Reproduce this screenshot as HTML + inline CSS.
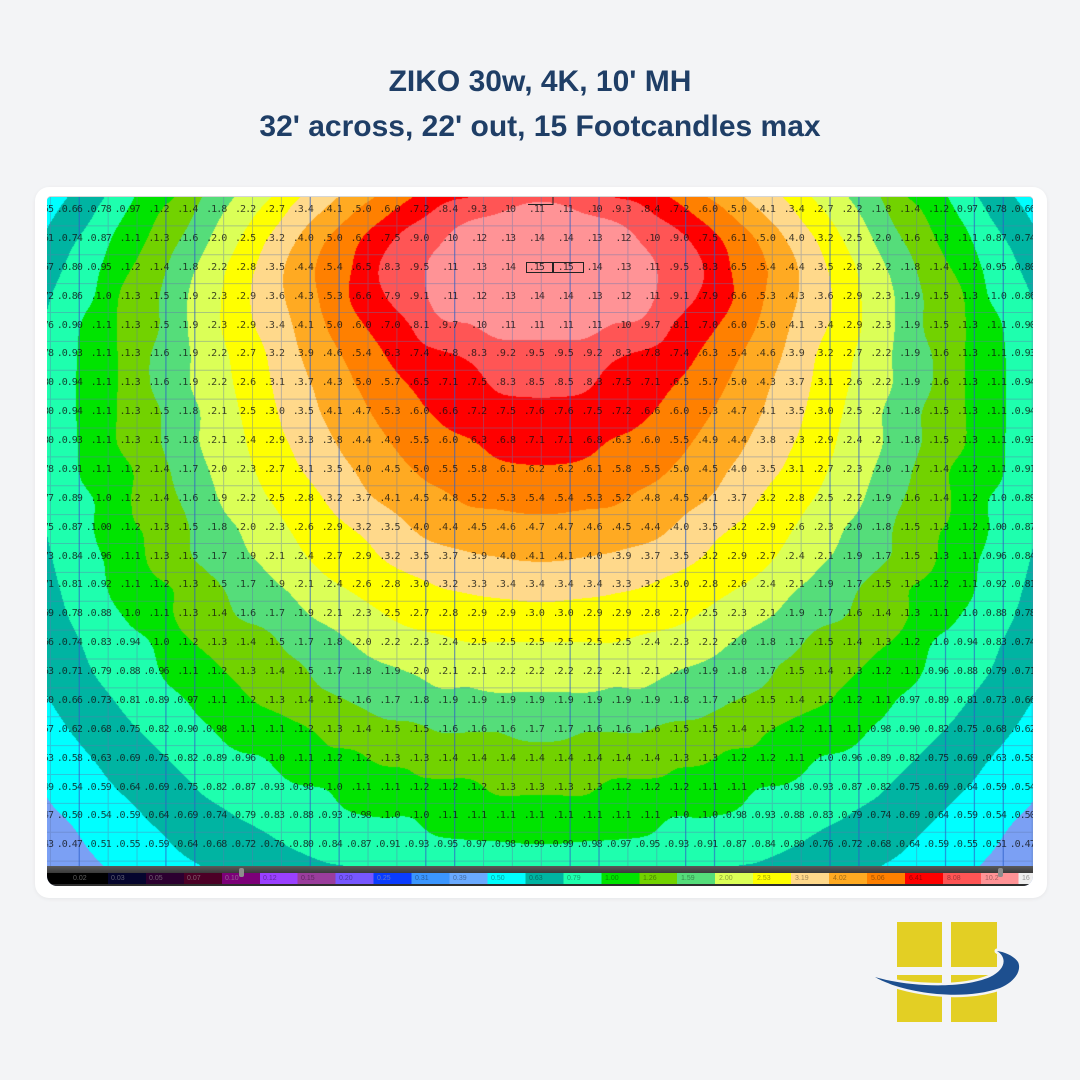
<!DOCTYPE html>
<html><head><meta charset="utf-8">
<style>
html,body{margin:0;padding:0}
body{width:1080px;height:1080px;background:#f3f4f6;position:relative;overflow:hidden;font-family:"Liberation Sans",Arial,sans-serif}
.t{position:absolute;left:0;width:1080px;text-align:center;font-weight:bold;font-size:30px;line-height:30px;color:#1f3e66;white-space:nowrap}
#card{position:absolute;left:35px;top:187px;width:1012px;height:711px;background:#fff;border-radius:14px;box-shadow:0 1px 4px rgba(0,0,0,0.06)}
#plot{position:absolute;left:47px;top:197px;width:986px;height:689px;overflow:hidden;border-radius:4px 4px 10px 10px;background:#7ba0f4;box-shadow:0 -1px 0 #d6d6d6}
#cv{position:absolute;left:0;top:0;width:986px;height:669px}
#gr{position:absolute;left:0;top:0}
#lb{position:absolute;left:0;top:0;width:986px;height:669px;overflow:hidden}
#lb div{position:absolute;left:-22.9px;height:11px;line-height:11px;display:flex;white-space:nowrap}
#lb i{font-style:normal;flex:none;width:28.875px;text-align:right;font-family:"DejaVu Sans Mono","Liberation Mono",monospace;font-size:10px;letter-spacing:-1px;color:rgba(15,15,15,0.78)}
#lb i::before{content:"."}
#cb{position:absolute;left:0;top:669px;width:986px;height:20px;background:#2e2e2e}
#cb .band{position:absolute;left:0;top:0;width:986px;height:7px;background:linear-gradient(#5a5a5a,#3a3a3a)}
#cb .cells{position:absolute;left:0;top:7px;width:986px;height:11px;background:linear-gradient(to right,#000 0 60.95px,#05052e 60.95px 98.9px,#2c0030 98.9px 136.85px,#4c0026 136.85px 174.8px,#7c0078 174.8px 212.75px,#9a40ff 212.75px 250.7px,#9a3d9c 250.7px 288.65px,#7757ff 288.65px 326.6px,#0a3cff 326.6px 364.55px,#3b96ff 364.55px 402.5px,#6aaaff 402.5px 440.45px,#00ffff 440.45px 478.4px,#00b4a2 478.4px 516.35px,#1effae 516.35px 554.3px,#00e400 554.3px 592.25px,#72d200 592.25px 630.2px,#55dd7a 630.2px 668.15px,#dbff57 668.15px 706.1px,#ffff00 706.1px 744.05px,#ffd98b 744.05px 782px,#ffaa22 782px 819.95px,#ff8000 819.95px 857.9px,#ff0000 857.9px 895.85px,#ff5555 895.85px 933.8px,#ff9396 933.8px 971.75px,#eeeeee 971.75px)}
#cb span{position:absolute;top:8px;font-size:7px;line-height:9px;font-family:"Liberation Sans",sans-serif;color:rgba(0,0,0,0.38)}
#cb span.d{color:rgba(170,170,170,0.55)}
#cb .k{position:absolute;top:2px;width:5px;height:9px;border-radius:2px;background:#8d8d8d}
</style></head>
<body>
<div class="t" style="top:67px">ZIKO 30w, 4K, 10' MH</div>
<div class="t" style="top:112px">32' across, 22' out, 15 Footcandles max</div>
<div id="card"></div>
<div id="plot">
<canvas id="cv" width="986" height="669"></canvas>
<svg id="gr" width="986" height="669" viewBox="0 0 986 669">
<path fill="none" stroke="rgba(95,120,175,0.42)" stroke-width="1" d="M3.4 0V669M61.15 0V669M90.03 0V669M176.65 0V669M205.53 0V669M234.4 0V669M321.03 0V669M349.9 0V669M436.53 0V669M465.4 0V669M494.28 0V669M580.9 0V669M609.78 0V669M696.4 0V669M725.28 0V669M754.15 0V669M840.78 0V669M869.65 0V669M985.15 0V669M0 28.88H986M0 57.75H986M0 86.63H986M0 115.5H986M0 144.38H986M0 173.25H986M0 202.13H986M0 231H986M0 259.88H986M0 288.75H986M0 317.63H986M0 346.5H986M0 375.38H986M0 404.25H986M0 433.13H986M0 462H986M0 490.88H986M0 519.75H986M0 548.63H986M0 577.5H986M0 606.38H986M0 635.25H986M0 664.13H986"/>
<path fill="none" stroke="rgba(45,95,200,0.62)" stroke-width="1.3" d="M32.28 0V669M118.9 0V669M147.78 0V669M263.28 0V669M292.15 0V669M378.78 0V669M407.65 0V669M523.15 0V669M552.03 0V669M638.65 0V669M667.53 0V669M783.03 0V669M811.9 0V669M898.53 0V669M927.4 0V669M956.28 0V669"/>
<path fill="none" stroke="#222" stroke-width="1" d="M481 7.5H506V0M479.5 65.5h26v10h-26zM506.5 65.5h30v10h-30z"/>
</svg>
<div id="lb">
<div style="top:7px"><i>0.55</i><i>0.66</i><i>0.78</i><i>0.97</i><i>1.2</i><i>1.4</i><i>1.8</i><i>2.2</i><i>2.7</i><i>3.4</i><i>4.1</i><i>5.0</i><i>6.0</i><i>7.2</i><i>8.4</i><i>9.3</i><i>10</i><i>11</i><i>11</i><i>10</i><i>9.3</i><i>8.4</i><i>7.2</i><i>6.0</i><i>5.0</i><i>4.1</i><i>3.4</i><i>2.7</i><i>2.2</i><i>1.8</i><i>1.4</i><i>1.2</i><i>0.97</i><i>0.78</i><i>0.66</i></div>
<div style="top:35.88px"><i>0.61</i><i>0.74</i><i>0.87</i><i>1.1</i><i>1.3</i><i>1.6</i><i>2.0</i><i>2.5</i><i>3.2</i><i>4.0</i><i>5.0</i><i>6.1</i><i>7.5</i><i>9.0</i><i>10</i><i>12</i><i>13</i><i>14</i><i>14</i><i>13</i><i>12</i><i>10</i><i>9.0</i><i>7.5</i><i>6.1</i><i>5.0</i><i>4.0</i><i>3.2</i><i>2.5</i><i>2.0</i><i>1.6</i><i>1.3</i><i>1.1</i><i>0.87</i><i>0.74</i></div>
<div style="top:64.75px"><i>0.67</i><i>0.80</i><i>0.95</i><i>1.2</i><i>1.4</i><i>1.8</i><i>2.2</i><i>2.8</i><i>3.5</i><i>4.4</i><i>5.4</i><i>6.5</i><i>8.3</i><i>9.5</i><i>11</i><i>13</i><i>14</i><i>15</i><i>15</i><i>14</i><i>13</i><i>11</i><i>9.5</i><i>8.3</i><i>6.5</i><i>5.4</i><i>4.4</i><i>3.5</i><i>2.8</i><i>2.2</i><i>1.8</i><i>1.4</i><i>1.2</i><i>0.95</i><i>0.80</i></div>
<div style="top:93.63px"><i>0.72</i><i>0.86</i><i>1.0</i><i>1.3</i><i>1.5</i><i>1.9</i><i>2.3</i><i>2.9</i><i>3.6</i><i>4.3</i><i>5.3</i><i>6.6</i><i>7.9</i><i>9.1</i><i>11</i><i>12</i><i>13</i><i>14</i><i>14</i><i>13</i><i>12</i><i>11</i><i>9.1</i><i>7.9</i><i>6.6</i><i>5.3</i><i>4.3</i><i>3.6</i><i>2.9</i><i>2.3</i><i>1.9</i><i>1.5</i><i>1.3</i><i>1.0</i><i>0.86</i></div>
<div style="top:122.5px"><i>0.76</i><i>0.90</i><i>1.1</i><i>1.3</i><i>1.5</i><i>1.9</i><i>2.3</i><i>2.9</i><i>3.4</i><i>4.1</i><i>5.0</i><i>6.0</i><i>7.0</i><i>8.1</i><i>9.7</i><i>10</i><i>11</i><i>11</i><i>11</i><i>11</i><i>10</i><i>9.7</i><i>8.1</i><i>7.0</i><i>6.0</i><i>5.0</i><i>4.1</i><i>3.4</i><i>2.9</i><i>2.3</i><i>1.9</i><i>1.5</i><i>1.3</i><i>1.1</i><i>0.90</i></div>
<div style="top:151.38px"><i>0.78</i><i>0.93</i><i>1.1</i><i>1.3</i><i>1.6</i><i>1.9</i><i>2.2</i><i>2.7</i><i>3.2</i><i>3.9</i><i>4.6</i><i>5.4</i><i>6.3</i><i>7.4</i><i>7.8</i><i>8.3</i><i>9.2</i><i>9.5</i><i>9.5</i><i>9.2</i><i>8.3</i><i>7.8</i><i>7.4</i><i>6.3</i><i>5.4</i><i>4.6</i><i>3.9</i><i>3.2</i><i>2.7</i><i>2.2</i><i>1.9</i><i>1.6</i><i>1.3</i><i>1.1</i><i>0.93</i></div>
<div style="top:180.25px"><i>0.80</i><i>0.94</i><i>1.1</i><i>1.3</i><i>1.6</i><i>1.9</i><i>2.2</i><i>2.6</i><i>3.1</i><i>3.7</i><i>4.3</i><i>5.0</i><i>5.7</i><i>6.5</i><i>7.1</i><i>7.5</i><i>8.3</i><i>8.5</i><i>8.5</i><i>8.3</i><i>7.5</i><i>7.1</i><i>6.5</i><i>5.7</i><i>5.0</i><i>4.3</i><i>3.7</i><i>3.1</i><i>2.6</i><i>2.2</i><i>1.9</i><i>1.6</i><i>1.3</i><i>1.1</i><i>0.94</i></div>
<div style="top:209.13px"><i>0.80</i><i>0.94</i><i>1.1</i><i>1.3</i><i>1.5</i><i>1.8</i><i>2.1</i><i>2.5</i><i>3.0</i><i>3.5</i><i>4.1</i><i>4.7</i><i>5.3</i><i>6.0</i><i>6.6</i><i>7.2</i><i>7.5</i><i>7.6</i><i>7.6</i><i>7.5</i><i>7.2</i><i>6.6</i><i>6.0</i><i>5.3</i><i>4.7</i><i>4.1</i><i>3.5</i><i>3.0</i><i>2.5</i><i>2.1</i><i>1.8</i><i>1.5</i><i>1.3</i><i>1.1</i><i>0.94</i></div>
<div style="top:238px"><i>0.80</i><i>0.93</i><i>1.1</i><i>1.3</i><i>1.5</i><i>1.8</i><i>2.1</i><i>2.4</i><i>2.9</i><i>3.3</i><i>3.8</i><i>4.4</i><i>4.9</i><i>5.5</i><i>6.0</i><i>6.3</i><i>6.8</i><i>7.1</i><i>7.1</i><i>6.8</i><i>6.3</i><i>6.0</i><i>5.5</i><i>4.9</i><i>4.4</i><i>3.8</i><i>3.3</i><i>2.9</i><i>2.4</i><i>2.1</i><i>1.8</i><i>1.5</i><i>1.3</i><i>1.1</i><i>0.93</i></div>
<div style="top:266.88px"><i>0.78</i><i>0.91</i><i>1.1</i><i>1.2</i><i>1.4</i><i>1.7</i><i>2.0</i><i>2.3</i><i>2.7</i><i>3.1</i><i>3.5</i><i>4.0</i><i>4.5</i><i>5.0</i><i>5.5</i><i>5.8</i><i>6.1</i><i>6.2</i><i>6.2</i><i>6.1</i><i>5.8</i><i>5.5</i><i>5.0</i><i>4.5</i><i>4.0</i><i>3.5</i><i>3.1</i><i>2.7</i><i>2.3</i><i>2.0</i><i>1.7</i><i>1.4</i><i>1.2</i><i>1.1</i><i>0.91</i></div>
<div style="top:295.75px"><i>0.77</i><i>0.89</i><i>1.0</i><i>1.2</i><i>1.4</i><i>1.6</i><i>1.9</i><i>2.2</i><i>2.5</i><i>2.8</i><i>3.2</i><i>3.7</i><i>4.1</i><i>4.5</i><i>4.8</i><i>5.2</i><i>5.3</i><i>5.4</i><i>5.4</i><i>5.3</i><i>5.2</i><i>4.8</i><i>4.5</i><i>4.1</i><i>3.7</i><i>3.2</i><i>2.8</i><i>2.5</i><i>2.2</i><i>1.9</i><i>1.6</i><i>1.4</i><i>1.2</i><i>1.0</i><i>0.89</i></div>
<div style="top:324.63px"><i>0.75</i><i>0.87</i><i>1.00</i><i>1.2</i><i>1.3</i><i>1.5</i><i>1.8</i><i>2.0</i><i>2.3</i><i>2.6</i><i>2.9</i><i>3.2</i><i>3.5</i><i>4.0</i><i>4.4</i><i>4.5</i><i>4.6</i><i>4.7</i><i>4.7</i><i>4.6</i><i>4.5</i><i>4.4</i><i>4.0</i><i>3.5</i><i>3.2</i><i>2.9</i><i>2.6</i><i>2.3</i><i>2.0</i><i>1.8</i><i>1.5</i><i>1.3</i><i>1.2</i><i>1.00</i><i>0.87</i></div>
<div style="top:353.5px"><i>0.73</i><i>0.84</i><i>0.96</i><i>1.1</i><i>1.3</i><i>1.5</i><i>1.7</i><i>1.9</i><i>2.1</i><i>2.4</i><i>2.7</i><i>2.9</i><i>3.2</i><i>3.5</i><i>3.7</i><i>3.9</i><i>4.0</i><i>4.1</i><i>4.1</i><i>4.0</i><i>3.9</i><i>3.7</i><i>3.5</i><i>3.2</i><i>2.9</i><i>2.7</i><i>2.4</i><i>2.1</i><i>1.9</i><i>1.7</i><i>1.5</i><i>1.3</i><i>1.1</i><i>0.96</i><i>0.84</i></div>
<div style="top:382.38px"><i>0.71</i><i>0.81</i><i>0.92</i><i>1.1</i><i>1.2</i><i>1.3</i><i>1.5</i><i>1.7</i><i>1.9</i><i>2.1</i><i>2.4</i><i>2.6</i><i>2.8</i><i>3.0</i><i>3.2</i><i>3.3</i><i>3.4</i><i>3.4</i><i>3.4</i><i>3.4</i><i>3.3</i><i>3.2</i><i>3.0</i><i>2.8</i><i>2.6</i><i>2.4</i><i>2.1</i><i>1.9</i><i>1.7</i><i>1.5</i><i>1.3</i><i>1.2</i><i>1.1</i><i>0.92</i><i>0.81</i></div>
<div style="top:411.25px"><i>0.69</i><i>0.78</i><i>0.88</i><i>1.0</i><i>1.1</i><i>1.3</i><i>1.4</i><i>1.6</i><i>1.7</i><i>1.9</i><i>2.1</i><i>2.3</i><i>2.5</i><i>2.7</i><i>2.8</i><i>2.9</i><i>2.9</i><i>3.0</i><i>3.0</i><i>2.9</i><i>2.9</i><i>2.8</i><i>2.7</i><i>2.5</i><i>2.3</i><i>2.1</i><i>1.9</i><i>1.7</i><i>1.6</i><i>1.4</i><i>1.3</i><i>1.1</i><i>1.0</i><i>0.88</i><i>0.78</i></div>
<div style="top:440.13px"><i>0.66</i><i>0.74</i><i>0.83</i><i>0.94</i><i>1.0</i><i>1.2</i><i>1.3</i><i>1.4</i><i>1.5</i><i>1.7</i><i>1.8</i><i>2.0</i><i>2.2</i><i>2.3</i><i>2.4</i><i>2.5</i><i>2.5</i><i>2.5</i><i>2.5</i><i>2.5</i><i>2.5</i><i>2.4</i><i>2.3</i><i>2.2</i><i>2.0</i><i>1.8</i><i>1.7</i><i>1.5</i><i>1.4</i><i>1.3</i><i>1.2</i><i>1.0</i><i>0.94</i><i>0.83</i><i>0.74</i></div>
<div style="top:469px"><i>0.63</i><i>0.71</i><i>0.79</i><i>0.88</i><i>0.96</i><i>1.1</i><i>1.2</i><i>1.3</i><i>1.4</i><i>1.5</i><i>1.7</i><i>1.8</i><i>1.9</i><i>2.0</i><i>2.1</i><i>2.1</i><i>2.2</i><i>2.2</i><i>2.2</i><i>2.2</i><i>2.1</i><i>2.1</i><i>2.0</i><i>1.9</i><i>1.8</i><i>1.7</i><i>1.5</i><i>1.4</i><i>1.3</i><i>1.2</i><i>1.1</i><i>0.96</i><i>0.88</i><i>0.79</i><i>0.71</i></div>
<div style="top:497.88px"><i>0.60</i><i>0.66</i><i>0.73</i><i>0.81</i><i>0.89</i><i>0.97</i><i>1.1</i><i>1.2</i><i>1.3</i><i>1.4</i><i>1.5</i><i>1.6</i><i>1.7</i><i>1.8</i><i>1.9</i><i>1.9</i><i>1.9</i><i>1.9</i><i>1.9</i><i>1.9</i><i>1.9</i><i>1.9</i><i>1.8</i><i>1.7</i><i>1.6</i><i>1.5</i><i>1.4</i><i>1.3</i><i>1.2</i><i>1.1</i><i>0.97</i><i>0.89</i><i>0.81</i><i>0.73</i><i>0.66</i></div>
<div style="top:526.75px"><i>0.57</i><i>0.62</i><i>0.68</i><i>0.75</i><i>0.82</i><i>0.90</i><i>0.98</i><i>1.1</i><i>1.1</i><i>1.2</i><i>1.3</i><i>1.4</i><i>1.5</i><i>1.5</i><i>1.6</i><i>1.6</i><i>1.6</i><i>1.7</i><i>1.7</i><i>1.6</i><i>1.6</i><i>1.6</i><i>1.5</i><i>1.5</i><i>1.4</i><i>1.3</i><i>1.2</i><i>1.1</i><i>1.1</i><i>0.98</i><i>0.90</i><i>0.82</i><i>0.75</i><i>0.68</i><i>0.62</i></div>
<div style="top:555.63px"><i>0.53</i><i>0.58</i><i>0.63</i><i>0.69</i><i>0.75</i><i>0.82</i><i>0.89</i><i>0.96</i><i>1.0</i><i>1.1</i><i>1.2</i><i>1.2</i><i>1.3</i><i>1.3</i><i>1.4</i><i>1.4</i><i>1.4</i><i>1.4</i><i>1.4</i><i>1.4</i><i>1.4</i><i>1.4</i><i>1.3</i><i>1.3</i><i>1.2</i><i>1.2</i><i>1.1</i><i>1.0</i><i>0.96</i><i>0.89</i><i>0.82</i><i>0.75</i><i>0.69</i><i>0.63</i><i>0.58</i></div>
<div style="top:584.5px"><i>0.49</i><i>0.54</i><i>0.59</i><i>0.64</i><i>0.69</i><i>0.75</i><i>0.82</i><i>0.87</i><i>0.93</i><i>0.98</i><i>1.0</i><i>1.1</i><i>1.1</i><i>1.2</i><i>1.2</i><i>1.2</i><i>1.3</i><i>1.3</i><i>1.3</i><i>1.3</i><i>1.2</i><i>1.2</i><i>1.2</i><i>1.1</i><i>1.1</i><i>1.0</i><i>0.98</i><i>0.93</i><i>0.87</i><i>0.82</i><i>0.75</i><i>0.69</i><i>0.64</i><i>0.59</i><i>0.54</i></div>
<div style="top:613.38px"><i>0.47</i><i>0.50</i><i>0.54</i><i>0.59</i><i>0.64</i><i>0.69</i><i>0.74</i><i>0.79</i><i>0.83</i><i>0.88</i><i>0.93</i><i>0.98</i><i>1.0</i><i>1.0</i><i>1.1</i><i>1.1</i><i>1.1</i><i>1.1</i><i>1.1</i><i>1.1</i><i>1.1</i><i>1.1</i><i>1.0</i><i>1.0</i><i>0.98</i><i>0.93</i><i>0.88</i><i>0.83</i><i>0.79</i><i>0.74</i><i>0.69</i><i>0.64</i><i>0.59</i><i>0.54</i><i>0.50</i></div>
<div style="top:642.25px"><i>0.43</i><i>0.47</i><i>0.51</i><i>0.55</i><i>0.59</i><i>0.64</i><i>0.68</i><i>0.72</i><i>0.76</i><i>0.80</i><i>0.84</i><i>0.87</i><i>0.91</i><i>0.93</i><i>0.95</i><i>0.97</i><i>0.98</i><i>0.99</i><i>0.99</i><i>0.98</i><i>0.97</i><i>0.95</i><i>0.93</i><i>0.91</i><i>0.87</i><i>0.84</i><i>0.80</i><i>0.76</i><i>0.72</i><i>0.68</i><i>0.64</i><i>0.59</i><i>0.55</i><i>0.51</i><i>0.47</i></div>
</div>
<div id="cb">
<div class="band"></div>
<div class="cells"></div>
<span class="d" style="left:26px">0.02</span><span class="d" style="left:64px">0.03</span><span class="d" style="left:102px">0.05</span><span class="d" style="left:140px">0.07</span><span class="d" style="left:178px">0.10</span><span style="left:216px">0.12</span><span style="left:254px">0.15</span><span style="left:292px">0.20</span><span class="d" style="left:330px">0.25</span><span style="left:368px">0.31</span><span style="left:406px">0.39</span><span style="left:444px">0.50</span><span style="left:482px">0.63</span><span style="left:520px">0.79</span><span style="left:558px">1.00</span><span style="left:596px">1.26</span><span style="left:634px">1.59</span><span style="left:672px">2.00</span><span style="left:710px">2.53</span><span style="left:748px">3.19</span><span style="left:786px">4.02</span><span style="left:824px">5.06</span><span style="left:862px">6.41</span><span style="left:900px">8.08</span><span style="left:938px">10.2</span><span style="left:975px">16</span>
<div class="k" style="left:192px"></div><div class="k" style="left:951px"></div>
</div>
</div>
<svg style="position:absolute;left:860px;top:900px" width="180" height="140" viewBox="860 900 180 140">
<rect x="897" y="922" width="45" height="45" fill="#e3cf24"/>
<rect x="951" y="922" width="46" height="45" fill="#e3cf24"/>
<rect x="897" y="975" width="45" height="47" fill="#e3cf24"/>
<rect x="951" y="975" width="46" height="47" fill="#e3cf24"/>
<path d="M875 977C900 992 960 1002 1000 988C1015 982 1022 970 1018 962C1014 956 1005 952 997 951C1008 958 1005 970 990 977C960 990 905 986 875 977Z" fill="#1d4f8f" stroke="#f3f4f6" stroke-width="5" paint-order="stroke" stroke-linejoin="round"/>
</svg>
<script>
(function(){
var rows=document.querySelectorAll('#lb>div'),V=[];
for(var i=0;i<rows.length;i++){var s=rows[i].children,a=[];for(var j=0;j<s.length;j++)a.push(Math.log(parseFloat(s[j].textContent)));a.push(a[0]);V.push(a);}
var R=V.length,M=V[0].length;
function g(r,m){
 if(m<0)return 2*g(r,0)-g(r,1);
 if(m>=M)return 2*g(r,M-1)-g(r,M-2);
 if(r<0)return 2*V[0][m]-V[1][m];
 if(r>=R)return 2*V[R-1][m]-V[R-2][m];
 return V[r][m];
}
function cr(p0,p1,p2,p3,t){return p1+0.5*t*(p2-p0+t*(2*p0-5*p1+4*p2-p3+t*(3*(p1-p2)+p3-p0)));}
var T=[0.39,0.5,0.63,0.79,1,1.26,1.59,2,2.53,3.19,4.02,5.06,6.41,8.08,10.2].map(Math.log);
var C=[[59,150,255],[123,160,244],[0,255,255],[0,180,162],[30,255,174],[0,228,0],[114,210,0],[85,221,122],[219,255,87],[255,255,0],[255,217,139],[255,170,34],[255,128,0],[255,0,0],[255,85,85],[255,147,150]];
var cv=document.getElementById('cv'),W=cv.width,H=cv.height,ctx=cv.getContext('2d'),img=ctx.createImageData(W,H),d=img.data;
var cm=[],ct=[],x,y,m;
for(x=0;x<W;x++){var u=(47+x+0.5-35.96)/28.875;m=Math.floor(u);cm.push(m);ct.push(u-m);}
var col=[];
for(y=0;y<H;y++){
 var v=(197+y+0.5-211.44)/28.875,r=Math.floor(v),t=v-r;
 for(m=-1;m<=M+1;m++)col[m+1]=cr(g(r-1,m),g(r,m),g(r+1,m),g(r+2,m),t);
 for(x=0;x<W;x++){
  m=cm[x];var val=cr(col[m],col[m+1],col[m+2],col[m+3],ct[x]);
  var k=0;while(k<15&&val>=T[k])k++;
  var c=C[k],p=(y*W+x)*4;d[p]=c[0];d[p+1]=c[1];d[p+2]=c[2];d[p+3]=255;
 }
}
ctx.putImageData(img,0,0);
})();
</script>
</body></html>
